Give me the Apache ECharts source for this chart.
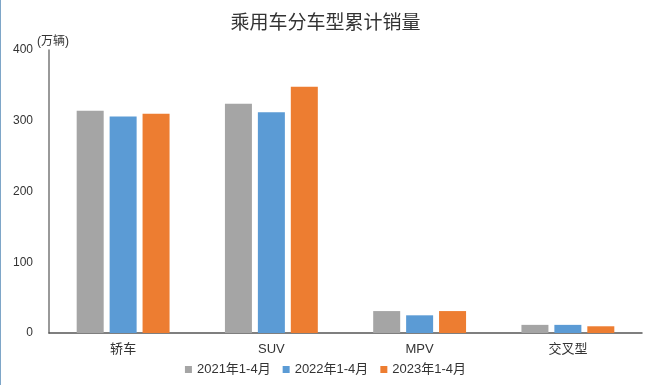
<!DOCTYPE html>
<html>
<head>
<meta charset="utf-8">
<style>
html,body{margin:0;padding:0;background:#fff;}
#c{width:649px;height:385px;border-left:1px solid #7ea6c8;}
</style>
<script src="https://cdn.jsdelivr.net/npm/echarts@6/dist/echarts.min.js"></script>
</head>
<body>
<div id="c"></div>
<script>
const categories = ['轿车', 'SUV', 'MPV', '交叉型'];
const seriesNames = ['2021年1-4月', '2022年1-4月', '2023年1-4月'];
const s2021 = [314, 324, 31, 11.5];
const s2022 = [306, 312, 25, 11.5];
const s2023 = [310, 348, 31, 9.5];
const yTicks = [0, 100, 200, 300, 400];
const colors = ['#a5a5a5', '#5b9bd5', '#ed7d31'];
const unitText = '(万辆)';

const font = '"Liberation Sans","Noto Sans CJK SC",sans-serif';
const chart = echarts.init(document.getElementById('c'));
const data = [s2021, s2022, s2023];
chart.setOption({
  animation: false,
  title: [{
    text: '乘用车分车型累计销量',
    left: 'center',
    top: 7,
    textStyle: {fontFamily: '"Noto Sans CJK SC",sans-serif', fontSize: 19, fontWeight: 'normal', color: '#333'}
  }, {
    text: unitText,
    left: 36,
    top: 36,
    padding: 0,
    textStyle: {fontFamily: font, fontSize: 12, fontWeight: 'normal', color: '#333'}
  }],
  legend: {
    data: seriesNames,
    bottom: 4,
    left: 'center',
    icon: 'rect',
    itemWidth: 7,
    itemHeight: 7,
    itemGap: 12,
    textStyle: {fontFamily: font, fontSize: 13, color: '#333'}
  },
  grid: {left: 48, right: 8, top: 50, bottom: 52, containLabel: false},
  xAxis: {
    type: 'category',
    data: categories,
    axisLine: {lineStyle: {color: '#555', width: 1.5}},
    axisTick: {show: false},
    axisLabel: {fontFamily: font, fontSize: 13, color: '#333', margin: 10}
  },
  yAxis: {
    type: 'value',
    min: 0,
    max: 400,
    interval: 100,
    axisLine: {show: true, lineStyle: {color: '#777', width: 1.5}},
    axisTick: {show: false},
    splitLine: {show: false},
    axisLabel: {fontFamily: font, fontSize: 12, color: '#333', margin: 16,
      formatter: v => yTicks.includes(v) ? String(v) : ''}
  },
  series: seriesNames.map((n, i) => ({
    name: n,
    type: 'bar',
    data: data[i],
    barWidth: 27,
    barGap: '22%',
    itemStyle: {color: colors[i]}
  }))
});
</script>
</body>
</html>
